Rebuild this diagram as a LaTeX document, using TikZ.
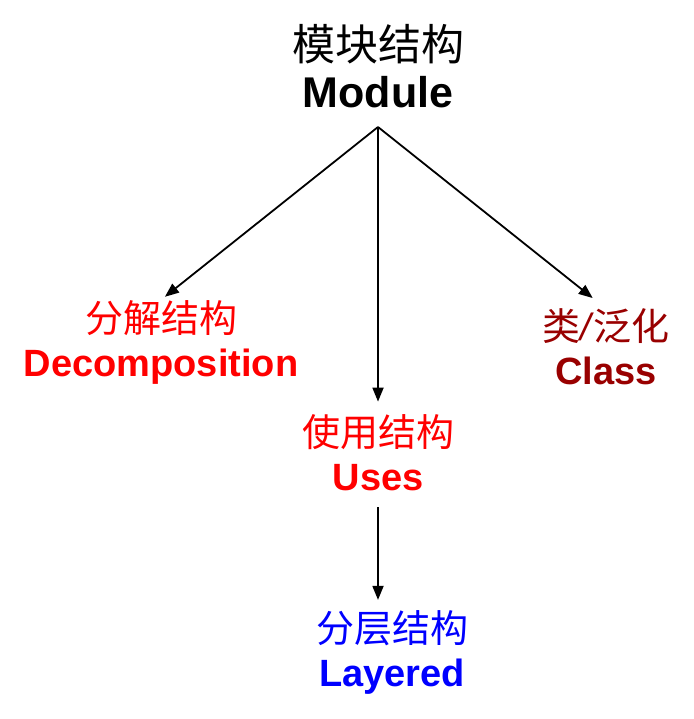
\documentclass[tikz,border=0pt]{standalone}
\usepackage{fontspec}
\setmainfont{Liberation Sans}
\newfontfamily\cjk{Noto Sans CJK SC}
\usetikzlibrary{arrows.meta}
\definecolor{darkred}{RGB}{153,0,0}
\tikzset{
  topbox/.style={align=center, inner sep=0pt, font=\fontsize{43}{47}\selectfont},
  subbox/.style={align=center, inner sep=0pt, font=\fontsize{38}{44}\selectfont},
  conn/.style={line width=1.8pt, -{Triangle[length=14pt,width=11pt]}}
}
\begin{document}
\begin{tikzpicture}[x=1pt,y=-1pt]
\useasboundingbox (0,0) rectangle (693,719);
\node[topbox] (top) at (378,66) {{\cjk 模块结构}\\\textbf{Module}};
\node[subbox, red] (decomp) at (161,342) {{\cjk 分解结构}\\\textbf{Decomposition}};
\node[subbox, darkred] (class) at (606,347) {{\cjk 类}\textit{/}{\cjk 泛化}\\\textbf{Class}};
\node[subbox, red] (uses) at (378,453) {{\cjk 使用结构}\\\textbf{Uses}};
\node[subbox, blue] (layer) at (392,652) {{\cjk 分层结构}\\\textbf{Layered}};
\draw[conn, shorten >=5pt] ([yshift=-19pt]top.south) -- (decomp.north);
\draw[conn, shorten >=17pt] ([yshift=-19pt]top.south) -- (class.north);
\draw[conn, shorten >=13pt] ([yshift=-19pt]top.south) -- (uses.north);
\draw[conn, shorten <=16pt, shorten >=10pt] (uses.south) -- (uses.south |- layer.north);
\end{tikzpicture}
\end{document}
